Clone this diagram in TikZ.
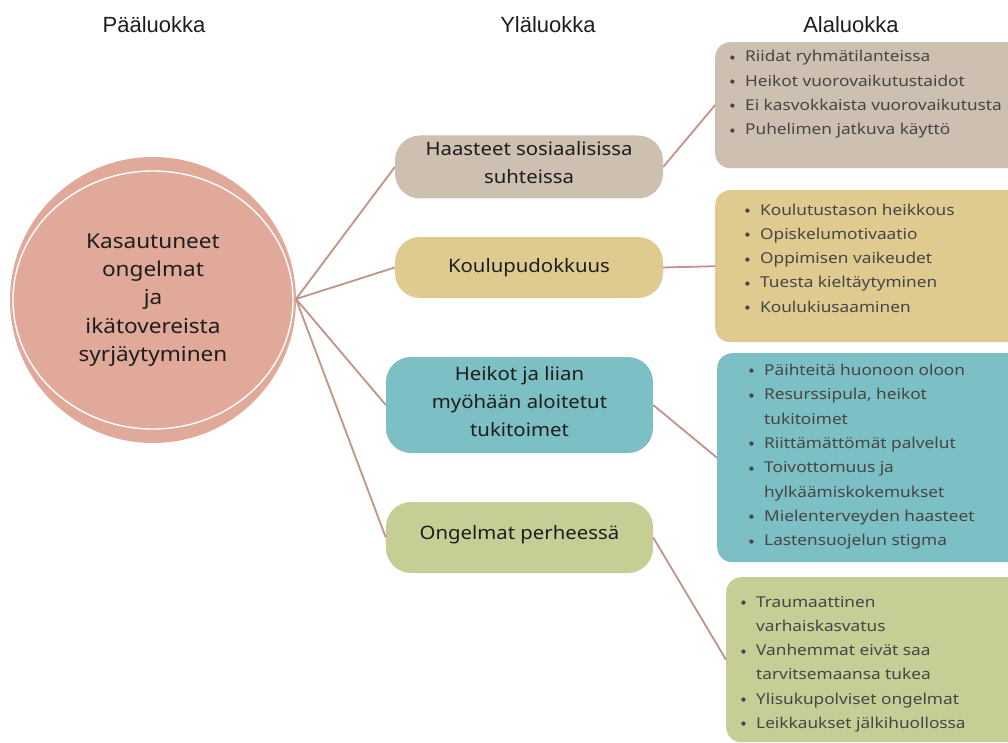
\documentclass[tikz,border=0pt]{standalone}
\usepackage{fontspec}
\setmainfont{Noto Sans}[FakeStretch=1.1]
\newfontfamily\listfont{Noto Sans}[FakeStretch=1.15]
\newfontfamily\hdrfont{Liberation Sans}
\newfontfamily\symfont{DejaVu Sans}
\definecolor{circfill}{HTML}{E1A99A}
\definecolor{tanfill}{HTML}{CDC0B0}
\definecolor{goldfill}{HTML}{DFCA8F}
\definecolor{tealfill}{HTML}{7CBFC5}
\definecolor{greenfill}{HTML}{C6CD95}
\definecolor{linkcol}{HTML}{C39289}
\definecolor{itemcol}{HTML}{464646}
\definecolor{darktext}{HTML}{1E1E1E}
\newcommand{\bul}{\makebox[16pt][l]{\hspace{1pt}\raisebox{2.6pt}{\symfont\fontsize{5.5}{5.5}\selectfont ●}}}
\newcommand{\bulgap}{\makebox[16pt][l]{}}
\newcommand{\mtext}[2]{\raisebox{0pt}[\height][\dimexpr\depth+#1\relax]{\begin{tabular}{@{}c@{}}#2\end{tabular}}}
\tikzset{
  header/.style={font=\hdrfont\fontsize{22}{26}\selectfont, text=darktext, anchor=base, inner sep=0pt},
  midbox/.style={rectangle, rounded corners=25pt, draw=none, minimum width=268pt, align=center,
    font=\fontsize{18.5}{28}\selectfont, text=darktext, inner sep=0pt},
  subbox/.style={rectangle, rounded corners=15pt, draw=none, anchor=north west, inner sep=0pt},
  listtext/.style={anchor=base west, inner sep=0pt, text=itemcol, font=\listfont\fontsize{15}{24.3}\selectfont},
  link/.style={draw=linkcol, line width=1.8pt},
}
\renewcommand{\arraystretch}{1}
\begin{document}
\begin{tikzpicture}[x=1pt,y=-1pt]
\useasboundingbox (0,0) rectangle (1008,743);
\clip (0,0) rectangle (1008,743);
\fill[white] (0,0) rectangle (1008,743);

% headers
\node[header] (h1) at (154,33) {Pääluokka};
\node[header] (h2) at (548,33) {Yläluokka};
\node[header] (h3) at (851,33) {Alaluokka};

% main circle
\node[circle, fill=circfill, minimum size=286pt, inner sep=0pt] (main) at (153,300) {};
\draw[white, line width=1.4pt] (153,300) ellipse [x radius=140pt, y radius=129pt];
\node[align=center, font=\fontsize{20.5}{28.2}\selectfont, text=darktext] (maintext) at (153,300)
  {Kasautuneet\\ongelmat\\ja\\ikätovereista\\syrjäytyminen};
\coordinate (o) at (296,299);

% middle boxes
\node[midbox, fill=tanfill, minimum height=60pt] (m1) at (529,167) {\mtext{7pt}{Haasteet sosiaalisissa\\suhteissa}};
\node[midbox, fill=goldfill, minimum height=61pt] (m2) at (529,267.5) {Koulupudokkuus};
\node[midbox, fill=tealfill, minimum width=267pt, minimum height=96pt] (m3) at (519.5,405) {\mtext{5pt}{Heikot ja liian\\myöhään aloitetut\\tukitoimet}};
\node[midbox, fill=greenfill, minimum width=267pt, minimum height=71pt] (m4) at (519.5,537.5) {\mtext{7pt}{Ongelmat perheessä}};

% right boxes
\node[subbox, fill=tanfill, minimum width=320pt, minimum height=126pt] (s1) at (715,42) {};
\node[subbox, fill=goldfill, minimum width=320pt, minimum height=152pt] (s2) at (715,190) {};
\node[subbox, fill=tealfill, minimum width=318pt, minimum height=209pt] (s3) at (717,353) {};
\node[subbox, fill=greenfill, minimum width=310pt, minimum height=165pt] (s4) at (726,577) {};

% connectors
\draw[link] (o) -- (m1.west);
\draw[link] (o) -- (m2.west);
\draw[link] (o) -- (m3.west);
\draw[link] (o) -- (m4.west);
\draw[link] (m1.east) -- (s1.west);
\draw[link] (m2.east) -- (s2.west);
\draw[link] (m3.east) -- (s3.west);
\draw[link] (m4.east) -- (s4.west);

% lists
\node[listtext] (l1) at (729,62) {\begin{tabular}[t]{@{}l@{}}
\bul Riidat ryhmätilanteissa\\
\bul Heikot vuorovaikutustaidot\\
\bul Ei kasvokkaista vuorovaikutusta\\
\bul Puhelimen jatkuva käyttö
\end{tabular}};
\node[listtext] (l2) at (744,215) {\begin{tabular}[t]{@{}l@{}}
\bul Koulutustason heikkous\\
\bul Opiskelumotivaatio\\
\bul Oppimisen vaikeudet\\
\bul Tuesta kieltäytyminen\\
\bul Koulukiusaaminen
\end{tabular}};
\node[listtext] (l3) at (748,375.5) {\begin{tabular}[t]{@{}l@{}}
\bul Päihteitä huonoon oloon\\
\bul Resurssipula, heikot\\
\bulgap tukitoimet\\
\bul Riittämättömät palvelut\\
\bul Toivottomuus ja\\
\bulgap hylkäämiskokemukset\\
\bul Mielenterveyden haasteet\\
\bul Lastensuojelun stigma
\end{tabular}};
\node[listtext] (l4) at (740,607) {\begin{tabular}[t]{@{}l@{}}
\bul Traumaattinen\\
\bulgap varhaiskasvatus\\
\bul Vanhemmat eivät saa\\
\bulgap tarvitsemaansa tukea\\
\bul Ylisukupolviset ongelmat\\
\bul Leikkaukset jälkihuollossa
\end{tabular}};
\end{tikzpicture}
\end{document}
